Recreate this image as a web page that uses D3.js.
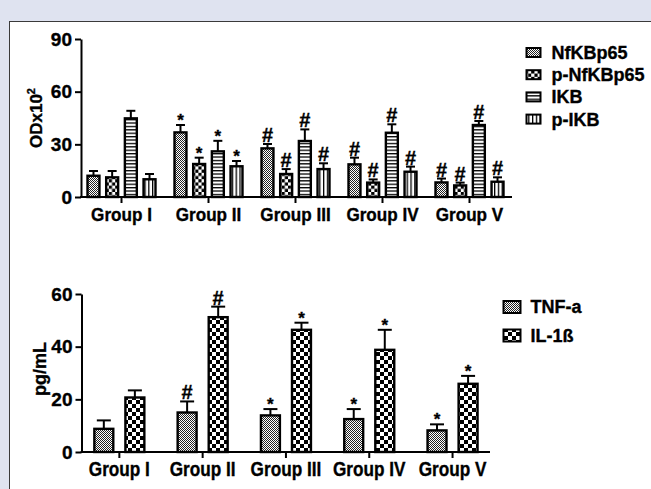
<!DOCTYPE html>
<html><head><meta charset="utf-8">
<script src="https://cdn.jsdelivr.net/npm/d3@7"></script>
<style>
html,body{margin:0;padding:0;background:#dfe3f0;}
svg{display:block;}
text{font-family:"Liberation Sans",Arial,sans-serif;font-weight:bold;fill:#000;stroke:#000;stroke-width:0.35px;}
</style></head><body>
<script>
// ---- data ----
const groups = ["Group I","Group II","Group III","Group IV","Group V"];
const topSeries = ["NfKBp65","p-NfKBp65","IKB","p-IKB"];
const nfkbMean  = [12.1, 36.8, 27.7, 18.6, 8.3];
const nfkbSd    = [2.7, 4.2, 2.5, 3.8, 2.2];
const pNfkbMean = [11.2, 18.8, 13.1, 8.2, 6.6];
const pNfkbSd   = [3.6, 3.6, 2.8, 1.8, 1.6];
const ikbMean   = [44.8, 26.0, 31.9, 36.6, 41.0];
const ikbSd     = [4.3, 6.0, 6.6, 4.8, 2.3];
const pIkbMean  = [10.1, 17.5, 15.9, 14.4, 8.7];
const pIkbSd    = [3.0, 3.0, 3.3, 2.9, 2.5];
const topMarks  = ["", "*", "#", "#", "#"];
const topTicks  = [0, 30, 60, 90];

const botSeries = ["TNF-a","IL-1ß"];
const tnfMean  = [8.8, 15.0, 13.9, 12.5, 8.2];
const tnfSd    = [3.2, 4.2, 2.4, 3.8, 2.3];
const il1bMean = [20.7, 51.2, 46.4, 38.8, 25.9];
const il1bSd   = [2.7, 4.0, 2.7, 7.6, 3.0];
const botMarks = ["", "#", "*", "*", "*"];
const botTicks = [0, 20, 40, 60];

// ---- svg ----
const W = 651, H = 489;
const svg = d3.select("body").append("svg").attr("width", W).attr("height", H);
svg.append("rect").attr("width", W).attr("height", H).attr("fill", "#dfe3f0");
svg.append("rect").attr("x", 9.5).attr("y", 21.5).attr("width", W).attr("height", H)
   .attr("fill", "#fff").attr("stroke", "#3a3a3a").attr("stroke-width", 1);

// patterns
const defs = svg.append("defs");
let p = defs.append("pattern").attr("id","stip").attr("patternUnits","userSpaceOnUse").attr("width",2).attr("height",2);
p.append("rect").attr("width",2).attr("height",2).attr("fill","#fff");
p.append("rect").attr("width",1).attr("height",1).attr("fill","#222");
p.append("rect").attr("x",1).attr("y",1).attr("width",1).attr("height",1).attr("fill","#222");
function checker(id, s){
  const q = defs.append("pattern").attr("id",id).attr("patternUnits","userSpaceOnUse").attr("width",2*s).attr("height",2*s);
  q.append("rect").attr("width",2*s).attr("height",2*s).attr("fill","#fff");
  q.append("rect").attr("width",s).attr("height",s).attr("fill","#000");
  q.append("rect").attr("x",s).attr("y",s).attr("width",s).attr("height",s).attr("fill","#000");
}
checker("chk", 3.2);
checker("chk2", 4);
p = defs.append("pattern").attr("id","hline").attr("patternUnits","userSpaceOnUse").attr("width",4).attr("height",3.4);
p.append("rect").attr("width",4).attr("height",3.4).attr("fill","#fff");
p.append("rect").attr("width",4).attr("height",1.3).attr("fill","#000");
p = defs.append("pattern").attr("id","vline").attr("patternUnits","userSpaceOnUse").attr("width",3.8).attr("height",4);
p.append("rect").attr("width",3.8).attr("height",4).attr("fill","#fff");
p.append("rect").attr("width",1.3).attr("height",4).attr("fill","#000");

function drawChart(cfg){
  const g = svg.append("g");
  const x = d3.scaleBand().domain(groups).range(cfg.xRange);
  const xs = d3.scaleBand().domain(cfg.series).range(cfg.subRange).paddingInner(cfg.subPad);
  const y = d3.scaleLinear().domain([0, cfg.ticks[cfg.ticks.length-1]]).range(cfg.yRange);

  cfg.series.forEach((s, si) => {
    const data = groups.map((gName, i) => ({g: gName, v: cfg.means[si][i], sd: cfg.sds[si][i], m: cfg.marks[i]}));
    const cx = d => x(d.g) + x.bandwidth()/2 + xs(s) + xs.bandwidth()/2;
    g.selectAll(null).data(data).enter().append("line")
      .attr("x1", cx).attr("x2", cx).attr("y1", d => y(d.v)).attr("y2", d => y(d.v + d.sd))
      .attr("stroke","#000").attr("stroke-width",2);
    g.selectAll(null).data(data).enter().append("line")
      .attr("x1", d => cx(d) - cfg.cap/2).attr("x2", d => cx(d) + cfg.cap/2)
      .attr("y1", d => y(d.v + d.sd)).attr("y2", d => y(d.v + d.sd))
      .attr("stroke","#000").attr("stroke-width",2);
    g.selectAll(null).data(data).enter().append("rect")
      .attr("x", d => cx(d) - xs.bandwidth()/2).attr("width", xs.bandwidth())
      .attr("y", d => y(d.v)).attr("height", d => y(0) - y(d.v))
      .attr("fill", `url(#${cfg.fills[si]})`).attr("stroke","#000").attr("stroke-width",2.4);
    g.selectAll(null).data(data.filter(d => d.m)).enter().append("text")
      .attr("x", cx)
      .attr("y", d => y(d.v + d.sd) + (d.m === "*" ? cfg.starOff : -2))
      .attr("text-anchor","middle")
      .style("font-size", d => d.m === "*" ? cfg.starSize : cfg.hashSize)
      .text(d => d.m);
  });

  const ya = g.append("g").attr("transform", `translate(${cfg.yAxisX},0)`)
    .call(d3.axisLeft(y).tickValues(cfg.ticks).tickSize(6).tickSizeOuter(0).tickPadding(3));
  ya.selectAll("path,line").attr("stroke","#000").attr("stroke-width",2);
  ya.selectAll("text").style("font-size", cfg.tickSize).attr("fill","#000")
    .attr("font-family","Liberation Sans, Arial, sans-serif").attr("font-weight","bold");

  const xa = g.append("g").attr("transform", `translate(0,${y(0)})`)
    .call(d3.axisBottom(x).tickSize(6).tickSizeOuter(0).tickPadding(cfg.xPad));
  xa.select(".domain").remove();
  xa.append("line").attr("x1", cfg.yAxisX - 1).attr("x2", cfg.xEnd).attr("stroke","#000").attr("stroke-width",2);
  xa.selectAll("line").attr("stroke","#000").attr("stroke-width",2);
  xa.selectAll(".tick text").style("font-size", cfg.groupSize).attr("fill","#000")
    .attr("font-family","Liberation Sans, Arial, sans-serif").attr("font-weight","bold")
    .attr("transform", `scale(${cfg.groupScale},1)`);

  const yl = g.append("text").attr("transform", `translate(${cfg.yLabel[0]},${cfg.yLabel[1]}) rotate(-90)`)
    .attr("text-anchor","middle").style("font-size", cfg.yLabelSize);
  cfg.yLabelParts.forEach(pt => {
    const ts = yl.append("tspan").text(pt.t);
    if (pt.sup) ts.attr("dy", -7).style("font-size","11px");
  });

  const lg = g.append("g");
  cfg.series.forEach((s, si) => {
    const yy = cfg.legY + si * cfg.legStep;
    lg.append("rect").attr("x", cfg.legX).attr("y", yy - cfg.legH/2).attr("width", cfg.legW).attr("height", cfg.legH)
      .attr("fill", `url(#${cfg.fills[si]})`).attr("stroke","#000").attr("stroke-width",2);
    lg.append("text").attr("x", cfg.legX + cfg.legW + cfg.legGap).attr("y", yy).attr("dy","0.36em")
      .style("font-size", cfg.legSize).text(s);
  });
}

drawChart({
  series: topSeries,
  means: [nfkbMean, pNfkbMean, ikbMean, pIkbMean],
  sds: [nfkbSd, pNfkbSd, ikbSd, pIkbSd],
  marks: topMarks, ticks: topTicks,
  fills: ["stip","chk","hline","vline"],
  xRange: [78, 513], subRange: [-34, 34], subPad: 0.36,
  yRange: [197, 39], yAxisX: 81, xEnd: 512, cap: 9,
  starOff: 1, starSize: "17px", hashSize: "20px",
  tickSize: "19px", groupSize: "18px", groupScale: 0.95, xPad: 5,
  yLabel: [42, 118], yLabelSize: "17px",
  yLabelParts: [{t:"ODx10"},{t:"2", sup:true}],
  legX: 526.5, legW: 14, legH: 9, legGap: 11, legY: 52.5, legStep: 22.2, legSize: "18px"
});

drawChart({
  series: botSeries,
  means: [tnfMean, il1bMean],
  sds: [tnfSd, il1bSd],
  marks: botMarks, ticks: botTicks,
  fills: ["stip","chk2"],
  xRange: [77.7, 494.2], subRange: [-25, 25], subPad: 0.39,
  yRange: [452, 294], yAxisX: 81.5, xEnd: 490, cap: 14,
  starOff: 1, starSize: "17px", hashSize: "20px",
  tickSize: "19px", groupSize: "20px", groupScale: 0.86, xPad: 4,
  yLabel: [46, 369], yLabelSize: "18px",
  yLabelParts: [{t:"pg/mL"}],
  legX: 503.5, legW: 17, legH: 12, legGap: 10, legY: 307, legStep: 28.5, legSize: "18px"
});
</script>
</body></html>
